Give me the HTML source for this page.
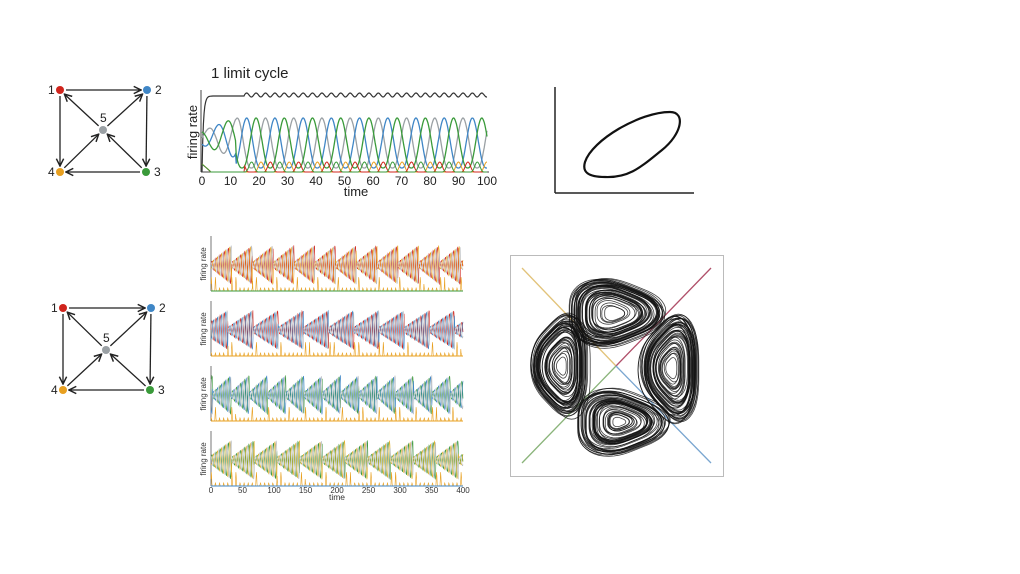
<!DOCTYPE html>
<html><head><meta charset="utf-8"><style>
html,body{margin:0;padding:0;background:#fff;}
svg{display:block;font-family:"Liberation Sans",sans-serif;}
</style></head><body>
<svg id="s" width="1020" height="574" viewBox="0 0 1020 574" xmlns="http://www.w3.org/2000/svg">
<defs>
<marker id="ar" viewBox="0 0 10 10" refX="9" refY="5" markerWidth="7" markerHeight="7" orient="auto"><path d="M1,1 L9,5 L1,9" fill="none" stroke="#222" stroke-width="1.6"/></marker>
</defs>
<g id="graphs"></g>
<text x="211" y="78" font-size="15" fill="#222">1 limit cycle</text>
<line x1="201" y1="90" x2="201" y2="172" stroke="#444" stroke-width="1"/>
<line x1="201" y1="172" x2="489" y2="172" stroke="#444" stroke-width="1"/>
<text transform="translate(197,132) rotate(-90)" font-size="13" text-anchor="middle" fill="#222">firing rate</text>
<g id="tt" font-size="12" fill="#222" text-anchor="middle"></g>
<text x="356" y="196" font-size="13" text-anchor="middle" fill="#222">time</text>
<g id="topw"></g>
<line x1="555" y1="87" x2="555" y2="193" stroke="#222" stroke-width="1.5"/>
<line x1="555" y1="193" x2="694" y2="193" stroke="#222" stroke-width="1.5"/>
<path d="M585,162 C592,140 640,112 670,112 C686,112 682,134 662,150 C642,166 630,178 605,177 C588,177 582,172 585,162 Z" fill="none" stroke="#111" stroke-width="2.2"/>
<g id="bot" font-size="8" fill="#333"></g>
<text x="337" y="500" font-size="8.5" text-anchor="middle" fill="#333">time</text>
<rect x="510.5" y="255.5" width="213" height="221" fill="none" stroke="#bbb" stroke-width="1"/>
<line x1="522" y1="268" x2="616" y2="366" stroke="#e2c37a" stroke-width="1.3"/>
<line x1="711" y1="268" x2="616" y2="366" stroke="#b0506a" stroke-width="1.3"/>
<line x1="522" y1="463" x2="616" y2="366" stroke="#8ab47a" stroke-width="1.3"/>
<line x1="711" y1="463" x2="616" y2="366" stroke="#7aa6d0" stroke-width="1.3"/>
<g id="att" fill="none" stroke="#111" stroke-width="0.8" stroke-opacity="0.8"></g>
</svg>
<script>
var NS="http://www.w3.org/2000/svg";
function el(p,t,a,txt){var e=document.createElementNS(NS,t);for(var k in a)e.setAttribute(k,a[k]);if(txt!==undefined)e.textContent=txt;p.appendChild(e);return e;}
var G=document.getElementById('graphs');
function graph(n){
  var col=['#d0241c','#3f86c6','#3a9a3a','#e8a020','#9aa0a4'];
  var lab=['1','2','3','4','5'];
  var edges=[[0,1],[1,2],[2,3],[0,3],[4,0],[4,1],[2,4],[3,4]];
  edges.forEach(function(e){var a=n[e[0]],b=n[e[1]];var dx=b[0]-a[0],dy=b[1]-a[1],L=Math.hypot(dx,dy);
    el(G,'line',{x1:a[0]+dx/L*6,y1:a[1]+dy/L*6,x2:b[0]-dx/L*6,y2:b[1]-dy/L*6,stroke:'#222','stroke-width':1.3,'marker-end':'url(#ar)'});});
  var off=[[-12,4],[8,4],[8,4],[-12,4],[-3,-8]];
  n.forEach(function(p,i){el(G,'circle',{cx:p[0],cy:p[1],r:4,fill:col[i]});
    el(G,'text',{x:p[0]+off[i][0],y:p[1]+off[i][1],'font-size':12,fill:'#222'},lab[i]);});
}
graph([[60,90],[147,90],[146,172],[60,172],[103,130]]);
graph([[63,308],[151,308],[150,390],[63,390],[106,350]]);
var tt=document.getElementById('tt');
for(var i=0;i<=10;i++){el(tt,'text',{x:202+i*28.5,y:185},String(i*10));}
var T=document.getElementById('topw');
function pth(p,pts,c,w){var d='M'+pts.map(function(q){return q[0].toFixed(1)+','+q[1].toFixed(1)}).join('L');el(p,'path',{d:d,fill:'none',stroke:c,'stroke-width':w||1.3});}
var x0=202,sx=2.85;
var bk=[];for(var t=0;t<=100;t+=0.25){var yy=t<15?(172-76*(1-Math.exp(-t*2))):(95+2*Math.sin(t*2*Math.PI/3.3));bk.push([x0+t*sx,yy]);}
pth(T,bk,'#333',1.2);
var cs=['#9aa0a4','#3f86c6','#3a9a3a'];
for(var k=0;k<3;k++){var pts=[];for(var t=0;t<=100;t+=0.25){var a=Math.min(1,0.35+t/18);var ph=t*2*Math.PI/9.9-k*2*Math.PI/3;var v=Math.max(0,0.5+0.5*Math.sin(ph));v=Math.pow(v,1.3);pts.push([x0+t*sx,168-(t<12?(30+a*20*Math.sin(ph)):v*50)]);}pth(T,pts,cs[k],1.3);}
var ls=['#e8a020','#d0241c','#3a9a3a'];
for(var k=0;k<3;k++){var pts=[];for(var t=0;t<=100;t+=0.25){var ph=t*2*Math.PI/9.9-k*2*Math.PI/3+1;var v=Math.max(0,Math.sin(ph));v=Math.pow(v,3);pts.push([x0+t*sx,172-(t<15?(t<3?8-t*2.5:0):v*10)]);}pth(T,pts,ls[k],1);}
var B=document.getElementById('bot');
var tops=[236,301,366,431];
var pc=[['#d0241c','#e8a020','#b8bcc0'],['#d0241c','#3f86c6','#b8bcc0'],['#3a9a3a','#3f86c6','#b8bcc0'],['#3a9a3a','#e0b030','#b8bcc0']];
var base=['#3a9a3a','#e8a020','#e8a020','#3f86c6'];
var bx0=211,bsx=252/400;
var envP=[33,40,29,36];
for(var p=0;p<4;p++){var y0=tops[p],yb=y0+55;
  el(B,'line',{x1:bx0,y1:y0,x2:bx0,y2:yb,stroke:'#555','stroke-width':0.8});
  el(B,'text',{transform:'translate(206,'+(y0+28)+') rotate(-90)','text-anchor':'middle','font-size':8},'firing rate');
  for(var k=0;k<3;k++){var pts=[];for(var t=0;t<=400;t+=0.5){var ph=((t+p*13)%envP[p])/envP[p];var env=0.15+0.85*ph;var v=0.5+0.5*env*Math.sin(t*2*Math.PI/6.5-k*2.1);pts.push([bx0+t*bsx,yb-6-v*40]);}pth(B,pts,pc[p][k],0.6);}
  var pts=[];for(var t=0;t<=400;t+=0.5){var ph=((t+p*13)%envP[p])/envP[p];var v=Math.pow(Math.max(0,Math.sin(t*2*Math.PI/6.5+1)),4)*(ph<0.25?14:3);pts.push([bx0+t*bsx,yb-v]);}pth(B,pts,'#e8a020',0.6);
  el(B,'line',{x1:bx0,y1:yb,x2:463,y2:yb,stroke:base[p],'stroke-width':1});
}
for(var i=0;i<=8;i++){el(B,'text',{x:bx0+i*50*bsx,y:493,'text-anchor':'middle'},String(i*50));}
var A=document.getElementById('att');
function lobe(cx,cy,ang,rx,ry,seed){
  var r=seed;function rnd(){r=(r*9301+49297)%233280;return r/233280;}
  for(var j=0;j<45;j++){var s=0.1+0.9*Math.sqrt(rnd());var d='';var ox=(rnd()-0.5)*8,oy=(rnd()-0.5)*6;
    for(var q=0;q<=60;q++){var th=q/60*2*Math.PI;var tri=1+0.1*Math.cos(3*th+ang);var x=Math.cos(th)*rx*s*tri,y=Math.sin(th)*ry*s*tri;
      var X=cx+ox*s+x*Math.cos(ang)-y*Math.sin(ang),Y=cy+oy*s+x*Math.sin(ang)+y*Math.cos(ang);d+=(q?'L':'M')+X.toFixed(1)+','+Y.toFixed(1);}
    el(A,'path',{d:d+'Z'});}
}
lobe(613,313,0,46,32,3);
lobe(562,366,Math.PI/2,50,28,7);
lobe(672,368,Math.PI/2,52,28,11);
lobe(619,422,0,46,32,17);
</script>
</body></html>
